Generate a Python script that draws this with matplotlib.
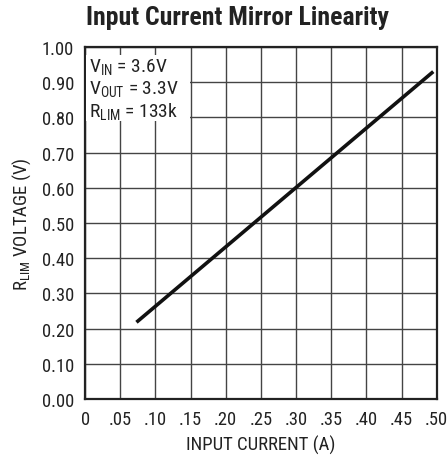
import matplotlib
matplotlib.use("Agg")
import matplotlib.pyplot as plt
from matplotlib.patches import Rectangle

plt.rcParams['font.family'] = ['Roboto Condensed', 'Liberation Sans Narrow', 'Roboto', 'DejaVu Sans']
plt.rcParams['mathtext.default'] = 'regular'

# data
current = [0.073, 0.495]
voltage = [0.218, 0.930]
x_ticks = [0, 0.05, 0.10, 0.15, 0.20, 0.25, 0.30, 0.35, 0.40, 0.45, 0.50]
x_labels = ['0', '.05', '.10', '.15', '.20', '.25', '.30', '.35', '.40', '.45', '.50']
y_ticks = [0.0, 0.1, 0.2, 0.3, 0.4, 0.5, 0.6, 0.7, 0.8, 0.9, 1.0]
y_labels = ['%.2f' % v for v in y_ticks]
notes = [r'V$_{IN}$ = 3.6V', r'V$_{OUT}$ = 3.3V', r'R$_{LIM}$ = 133k']

fig = plt.figure(figsize=(4.48, 4.60), dpi=100)
ax = fig.add_axes([0.190, 0.1304, 0.785, 0.7653])

ax.set_xlim(0, 0.5)
ax.set_ylim(0, 1.0)
ax.set_xticks(x_ticks)
ax.set_xticklabels(x_labels)
ax.set_yticks(y_ticks)
ax.set_yticklabels(y_labels)
ax.tick_params(length=0, labelsize=13.3, pad=8, colors='#222222')
ax.grid(True, color='#444444', linewidth=1.0)
for s in ax.spines.values():
    s.set_linewidth(1.6)
    s.set_color('#222222')

ax.plot(current, voltage, color='#111111', linewidth=2.6, solid_capstyle='butt', zorder=4)

# white box behind the notes
ax.add_patch(Rectangle((0.001, 0.79), 0.148, 0.187, facecolor='white',
                       edgecolor='none', zorder=3))
for i, t in enumerate(notes):
    ax.text(0.005, 0.975 - i * 0.063, t, fontsize=14, va='top', ha='left',
            color='#222222', zorder=5)

ax.set_xlabel('INPUT CURRENT (A)', fontsize=13.5, color='#222222', labelpad=5)
ax.set_ylabel(r'R$_{LIM}$ VOLTAGE (V)', fontsize=13.5, color='#222222', labelpad=6)
fig.text(0.530, 0.961, 'Input Current Mirror Linearity', fontsize=18.5, fontweight='bold',
         ha='center', va='center', color='#222222')

fig.savefig('out.png', dpi=100)
